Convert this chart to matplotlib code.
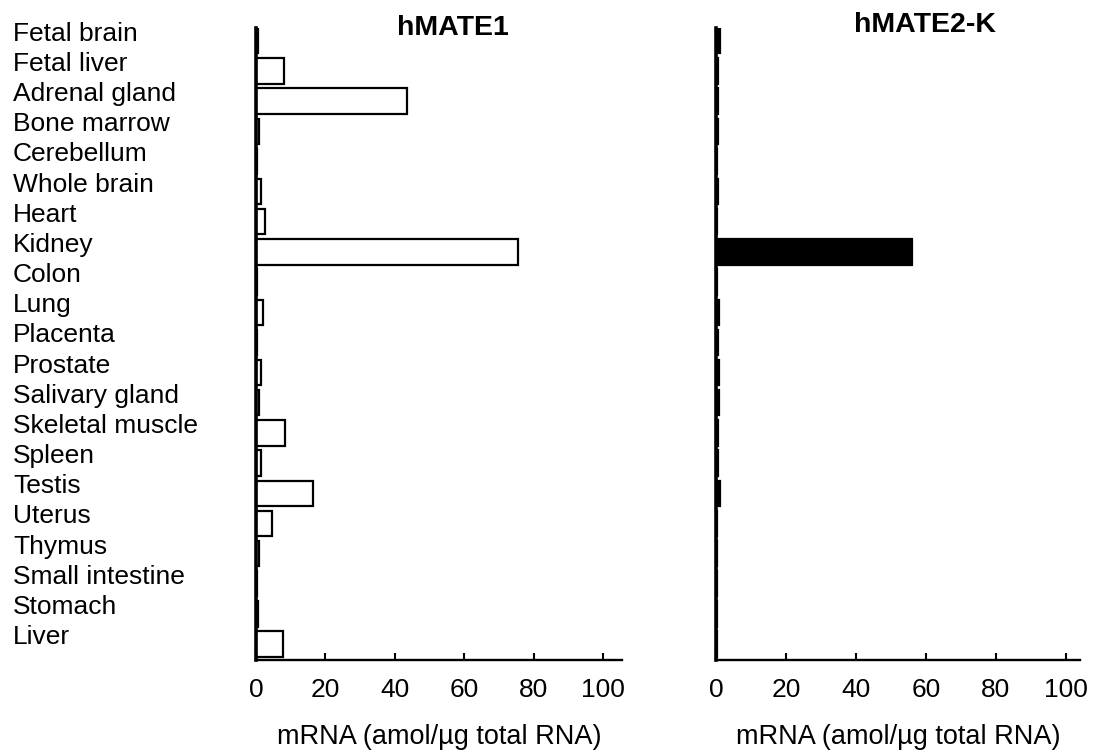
import numpy as np
import matplotlib.pyplot as plt

plt.rcParams['font.family'] = ['Liberation Sans', 'DejaVu Sans']

tissues = ["Fetal brain", "Fetal liver", "Adrenal gland", "Bone marrow", "Cerebellum",
           "Whole brain", "Heart", "Kidney", "Colon", "Lung", "Placenta", "Prostate",
           "Salivary gland", "Skeletal muscle", "Spleen", "Testis", "Uterus", "Thymus",
           "Small intestine", "Stomach", "Liver"]
mate1 = [0.6, 8.0, 43.5, 0.8, 0.3, 1.5, 2.5, 75.5, 0.3, 2.0, 0.3, 1.5, 1.0, 8.5,
         1.5, 16.5, 4.5, 1.0, 0.3, 0.5, 7.8]
mate2k = [1.0, 0.5, 0.5, 0.5, 0.4, 0.5, 0.4, 56.0, 0.4, 0.8, 0.5, 0.8, 0.8, 0.6,
          0.5, 1.2, 0.4, 0.3, 0.3, 0.3, 0.4]
xticks = [0, 20, 40, 60, 80, 100]
xlabel = "mRNA (amol/\u00b5g total RNA)"

W, H = 1097, 751
fig = plt.figure(figsize=(W / 100, H / 100), dpi=100)
ax1 = fig.add_axes([256 / W, 1 - 660 / H, 366 / W, 632 / H])
ax2 = fig.add_axes([716 / W, 1 - 660 / H, 364 / W, 632 / H])

pos = np.arange(len(tissues))

ax1.barh(pos, mate1, height=0.84, color='white', edgecolor='black', linewidth=1.6)
ax2.barh(pos, mate2k, height=0.84, color='black', edgecolor='black', linewidth=1.6)

ax1.set_xlim(0, 105.5)
ax2.set_xlim(0, 104)
for ax in (ax1, ax2):
    ax.set_ylim(20.53, -0.42)
    ax.spines['top'].set_visible(False)
    ax.spines['right'].set_visible(False)
    ax.spines['left'].set_linewidth(2.6)
    ax.spines['bottom'].set_linewidth(1.7)
    ax.set_xticks(xticks)
    ax.tick_params(axis='x', direction='in', length=5, width=1.5, labelsize=19, pad=13)
    ax.set_xlabel(xlabel, fontsize=19.5, labelpad=16)

ax1.set_yticks(pos)
ax1.set_yticklabels(tissues, ha='left', va='baseline', fontsize=19)
ax1.tick_params(axis='y', length=0, pad=175)
ax2.set_yticks([])

ax1.text(0.538, 1.0, "hMATE1", transform=ax1.transAxes, ha='center', va='center',
         fontsize=20.5, fontweight='bold')
ax2.text(0.574, 1.005, "hMATE2-K", transform=ax2.transAxes, ha='center', va='center',
         fontsize=20.5, fontweight='bold')

fig.savefig("out.png", dpi=100)
